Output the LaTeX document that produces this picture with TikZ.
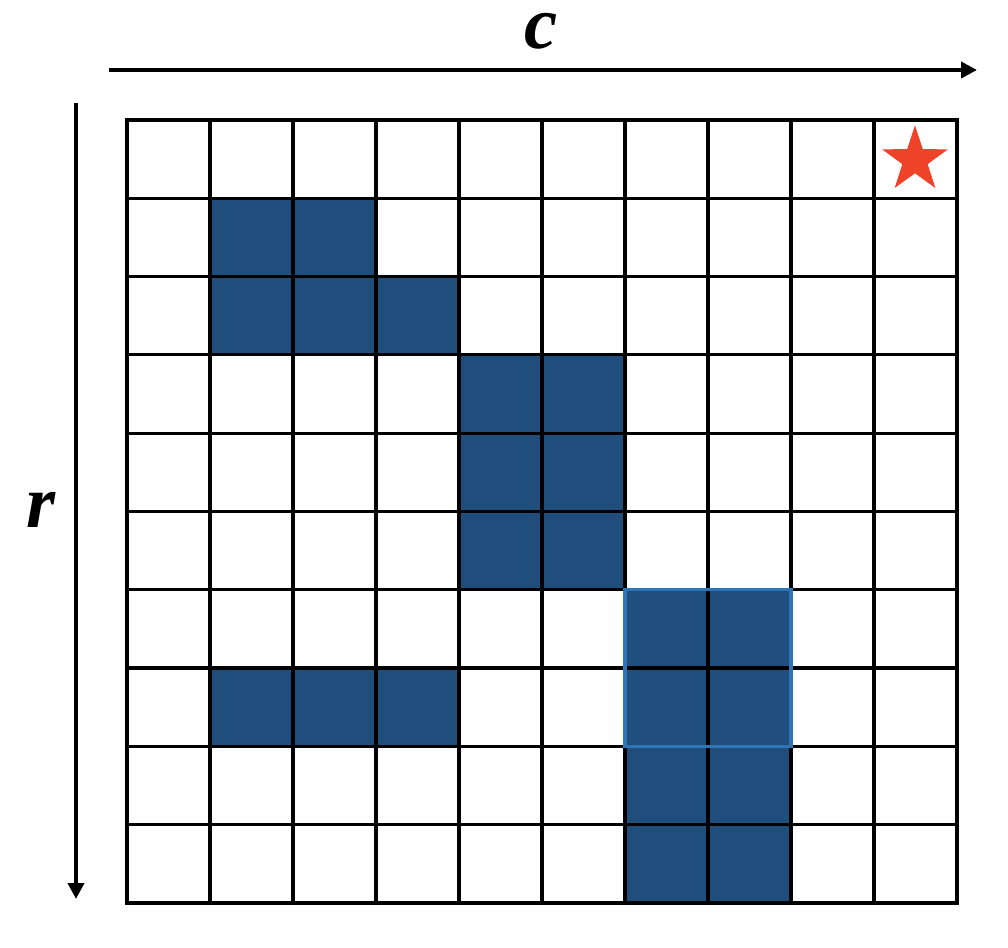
\documentclass[tikz,border=0pt]{standalone}
\usepackage{fontspec}
\setmainfont{Liberation Serif}
\usetikzlibrary{arrows.meta,shapes.geometric}

\definecolor{cellblue}{HTML}{1F4E7C}
\definecolor{boxblue}{HTML}{2E75B6}
\definecolor{starred}{HTML}{EE4229}

\tikzset{
  gridline/.style={line width=2.4pt,line cap=rect},
  axis/.style={line width=3pt,-{Triangle[length=12pt,width=12pt]}},
  axislabel/.style={inner sep=0pt,font=\fontsize{56}{56}\selectfont\bfseries\itshape},
}

\begin{document}
\begin{tikzpicture}[x=0.75pt,y=-0.75pt]
	\useasboundingbox (0,0) rectangle (1008,948);
	% blocked cells (row/col)
	\foreach \r/\c in {1/1,1/2,2/1,2/2,2/3,3/4,3/5,4/4,4/5,5/4,5/5,6/6,6/7,7/1,7/2,7/3,7/6,7/7,8/6,8/7,9/6,9/7}
		\fill[cellblue] ({127+83*\c},{120+78.3*\r}) rectangle ++(83,78.3);
	% grid
	\foreach \i in {0,...,10} {
		\draw[gridline] ({127+83*\i},120) -- ({127+83*\i},903);
		\draw[gridline] (127,{120+78.3*\i}) -- (957,{120+78.3*\i});
	}
	\draw[boxblue,line width=2.4pt] (625,589.8) rectangle (791,746.4);
	\node[star,star points=5,star point ratio=2.6,fill=starred,inner sep=0pt,minimum size=52pt] (goal) at (915,160) {};
	% axes
	\coordinate (cstart) at (109,70);
	\coordinate (cend) at (977,70);
	\coordinate (rstart) at (76,103);
	\coordinate (rend) at (76,899);
	\draw[axis] (cstart) -- (cend);
	\draw[axis] (rstart) -- (rend);
	\node[axislabel] (clabel) at (541,31) {c};
	\node[axislabel] (rlabel) at (41,510) {r};
\end{tikzpicture}
\end{document}
